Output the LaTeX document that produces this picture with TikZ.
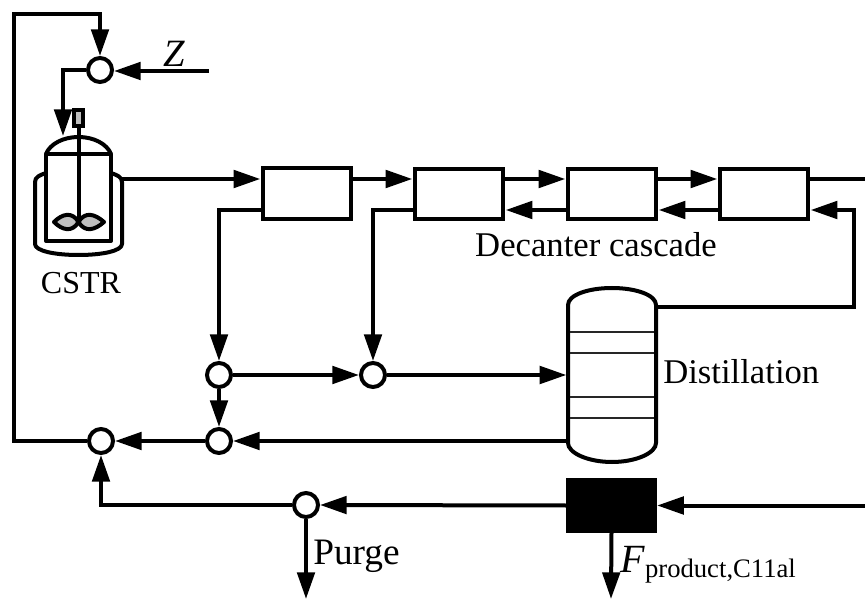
\documentclass[tikz,border=0pt]{standalone}
\usepackage{fontspec}
\setmainfont{Liberation Serif}
\usetikzlibrary{arrows.meta,calc}
\tikzset{
  flowline/.style={line width=3pt,line join=miter},
  flow/.style={flowline,-{Triangle[length=20pt,width=13pt]}},
  mixer/.style={circle,draw,fill=white,line width=3pt,minimum size=18pt,inner sep=0pt},
  decanter/.style={rectangle,draw,line width=3pt,minimum width=66pt,minimum height=38pt,inner sep=0pt,outer sep=0pt},
  label/.style={inner sep=0pt,font=\fontsize{26}{30}\selectfont},
  blackbox/.style={rectangle,fill=black,minimum width=68pt,minimum height=41pt,inner sep=0pt},
  column/.style={rectangle,minimum width=66pt,minimum height=130pt,inner sep=0pt},
  tray/.style={line width=1.3pt,draw=black!85},
  vessel/.style={line width=3pt,line join=round},
}
\begin{document}
\begin{tikzpicture}[x=0.75pt,y=-0.75pt]
\useasboundingbox (0,0) rectangle (865,599);
% named helper coordinates
\coordinate (up) at (0,179);
\coordinate (low) at (0,210);
\coordinate (zin) at (209,71);
\coordinate (tl) at (14,14);
\coordinate (rin) at (63,136);
\coordinate (rout) at (121,179);
\coordinate (rein) at (865,505);
\coordinate (dout) at (865,179);
\coordinate (purgeend) at (306,599);
\coordinate (prodend) at (611,599);
\coordinate (topret) at (854,307);
% reactor
\draw[vessel] (46,173) .. controls (40,175) and (35,177) .. (35,182) -- (35,244)
  .. controls (35,251) and (55,255) .. (78.5,255) .. controls (102,255) and (122,251) .. (122,244)
  -- (122,182) .. controls (122,177) and (117,175) .. (111,173);
\draw[vessel] (46,154) rectangle (111,241);
\draw[vessel] (46,154) .. controls (50,144) and (63,137) .. (78.5,137) .. controls (94,137) and (107,144) .. (111,154);
\draw[line width=3pt] (78.5,126) -- (78.5,222);
\draw[line width=2.5pt,fill=black!25] (74,110) rectangle (83,126);
\draw[line width=3pt,fill=black!25,line join=round] (78.5,222) .. controls (72,211) and (62,214) .. (54,222)
  .. controls (62,230) and (72,233) .. (78.5,222)
  .. controls (85,211) and (95,214) .. (104,222)
  .. controls (95,230) and (85,233) .. (78.5,222) -- cycle;
% units
\node[mixer] (m1) at (100,70) {};
\node[decanter] (b1) at (307,193.5) {};
\node[decanter] (b2) at (459,194) {};
\node[decanter] (b3) at (612,194) {};
\node[decanter] (b4) at (764,194) {};
\node[column] (col) at (612,375) {};
\node[mixer] (m2) at (219,375) {};
\node[mixer] (m3) at (373,375) {};
\node[mixer] (m4) at (219,441) {};
\node[mixer] (m5) at (101,441) {};
\node[mixer] (m6) at (306,505) {};
\node[blackbox] (sep) at (611.5,505.5) {};
% column
\draw[vessel] (568,305) .. controls (568,295) and (588,288) .. (612,288) .. controls (636,288) and (656,295) .. (656,305)
  -- (656,443) .. controls (656,453) and (636,462) .. (612,462) .. controls (588,462) and (568,453) .. (568,443) -- cycle;
\foreach \y in {332,353,397,418} \draw[tray] (570,\y) -- (654,\y);
% connectors
\draw[flow] (m5.west) -- (tl |- m5) -- (tl) -- (m1 |- tl) -- (m1.north);
\draw[flow] (zin) -- (m1.east |- zin);
\draw[flow] (m1.west) -| (rin);
\draw[flow] (rout) -- ([xshift=-2pt]b1.west |- up);
\draw[flow] (b1.east |- up) -- ([xshift=-2pt]b2.west |- up);
\draw[flow] (b2.east |- up) -- ([xshift=-2pt]b3.west |- up);
\draw[flow] (b3.east |- up) -- ([xshift=-2pt]b4.west |- up);
\draw[flowline] (b4.east |- up) -- (dout);
\draw[flow] (b4.west |- low) -- ([xshift=2pt]b3.east |- low);
\draw[flow] (b3.west |- low) -- ([xshift=2pt]b2.east |- low);
\draw[flow] (b2.west |- low) -| (m3.north);
\draw[flow] (b1.west |- low) -| (m2.north);
\draw[flow] (topret -| col.east) -- (topret) -- (topret |- low) -- ([xshift=2pt]b4.east |- low);
\draw[flow] (m2.east) -- (m3.west);
\draw[flow] (m3.east) -- ([xshift=-1pt]col.west |- m3);
\draw[flow] (m2.south) -- (m4.north);
\draw[flow] (col.west |- m4) -- (m4.east);
\draw[flow] (m4.west) -- (m5.east);
\draw[flow] (rein |- sep) -- (sep.east);
\draw[flow] (sep.west) -- (m6.east);
\draw[flow] (m6.west) -| (m5.south);
\draw[flow] (m6.south) -- (purgeend);
\draw[flow] (sep.south) -- (prodend);
% labels
\node[label,font=\fontsize{29}{30}\selectfont] (lz) at (174,54) {\textit{Z}};
\node[label,font=\fontsize{24}{30}\selectfont] (lc) at (81,283) {CSTR};
\node[label] (ld) at (596,245) {Decanter cascade};
\node[label,anchor=west] (ldist) at (663,372) {Distillation};
\node[label,anchor=west,font=\fontsize{28}{30}\selectfont] (lp) at (313,556) {Purge};
\node[label,anchor=base west] (lf) at (620,572) {\fontsize{30}{30}\selectfont\textit{F}\raisebox{-4pt}{\fontsize{20}{24}\selectfont product,C11al}};
\end{tikzpicture}
\end{document}
